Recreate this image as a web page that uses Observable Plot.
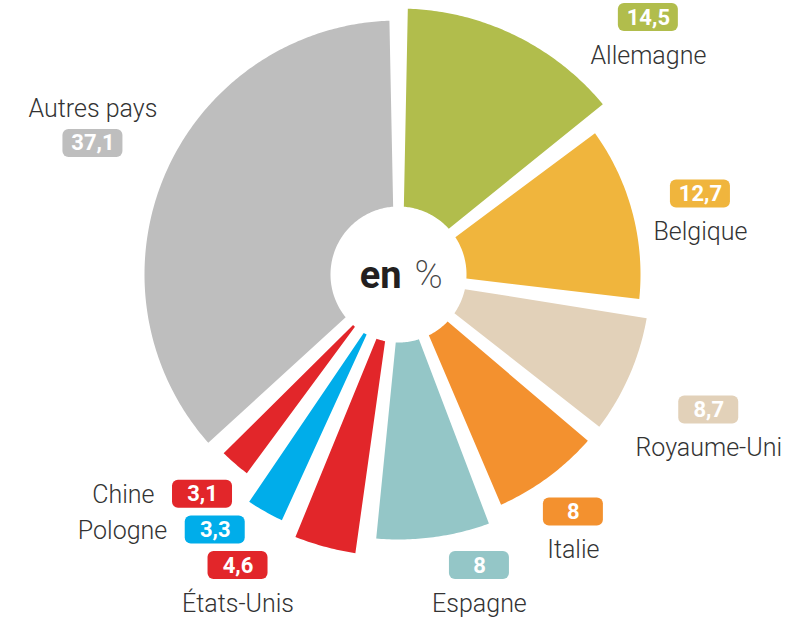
<!DOCTYPE html>
<html>
<head>
<meta charset="utf-8">
<script src="https://cdn.jsdelivr.net/npm/d3@7"></script>
<script src="https://cdn.jsdelivr.net/npm/@observablehq/plot@0.6"></script>
<style>
  html, body { margin: 0; padding: 0; background: #ffffff; }
  #chart svg { display: block; }
</style>
</head>
<body>
<div id="chart"></div>
<script>
// ---------- data ----------
const countries   = ["Allemagne", "Belgique", "Royaume-Uni", "Italie", "Espagne", "États-Unis", "Pologne", "Chine", "Autres pays"];
const shares      = [14.5, 12.7, 8.7, 8, 8, 4.6, 3.3, 3.1, 37.1];
const shareLabels = ["14,5", "12,7", "8,7", "8", "8", "4,6", "3,3", "3,1", "37,1"];
const unitLabel   = ["en", "%"];

// ---------- styles & layout (not data) ----------
const palette = ["#b1bd4c", "#f0b53d", "#e2d1b9", "#f3912f", "#94c6c7", "#e2262a", "#00adea", "#e2262a", "#bebebe"];
const sliceRadius = [266, 242, 252, 252, 265, 282, 272, 250, 254]; // decorative outer radius of each wedge
const W = 791, H = 621, CX = 398, CY = 274;
const innerRadius = 68;
const gapAt = r => 8 + 0.04 * r;          // white gap width between wedges
const badgeW = 60, badgeH = 28;
const nameSize = 25, badgeSize = 22;
const FONT = "Roboto, 'Open Sans', Lato, 'Noto Sans', sans-serif";

// ---------- wedges from the values ----------
const pie = d3.pie().sort(null).value(d => d)(shares);
const slicePts = [];
pie.forEach((p, i) => {
  const R = sliceRadius[i];
  const hO = gapAt(R) / 2, hI = gapAt(innerRadius) / 2;
  const o0 = p.startAngle + Math.asin(hO / R), o1 = p.endAngle - Math.asin(hO / R);
  let i0 = p.startAngle + Math.asin(hI / innerRadius), i1 = p.endAngle - Math.asin(hI / innerRadius);
  if (i1 < i0) { const m = (p.startAngle + p.endAngle) / 2; i0 = i1 = m; }
  const n = Math.max(8, Math.ceil((o1 - o0) / 0.01));
  for (let k = 0; k <= n; k++) {
    const a = o0 + (o1 - o0) * k / n;
    slicePts.push({country: countries[i], x: R * Math.sin(a), y: -R * Math.cos(a)});
  }
  const m = Math.max(2, Math.ceil((i1 - i0) / 0.02));
  for (let k = 0; k <= m; k++) {
    const a = i1 - (i1 - i0) * k / m;
    slicePts.push({country: countries[i], x: innerRadius * Math.sin(a), y: -innerRadius * Math.cos(a)});
  }
});

// ---------- label placement (derived from wedge angles) ----------
const ctx = document.createElement("canvas").getContext("2d");
ctx.font = `300 ${nameSize}px ${FONT}`;

function boxDist(ax, ay, b) {
  const x0 = ax + b.x0, x1 = ax + b.x1, y0 = ay + b.y0, y1 = ay + b.y1;
  const dx = x0 > 0 ? x0 : (x1 < 0 ? -x1 : 0);
  const dy = y0 > 0 ? y0 : (y1 < 0 ? -y1 : 0);
  return Math.hypot(dx, dy);
}
function placeAlong(theta, b, Rc) {
  const ux = Math.sin(theta), uy = -Math.cos(theta);
  let t = 0;
  while (boxDist(t * ux, t * uy, b) < Rc && t < 1000) t += 0.5;
  let ax = t * ux, ay = t * uy;
  const pad = 3;
  const xmin = -CX + pad - b.x0, xmax = W - CX - pad - b.x1;
  const ymin = -CY + pad - b.y0, ymax = H - CY - pad - b.y1;
  ay = Math.min(Math.max(ay, ymin), ymax);
  ax = Math.min(Math.max(ax, xmin), xmax);
  const sx = ux >= 0 ? 1 : -1;
  let guard = 0;
  while (boxDist(ax, ay, b) < Rc && guard++ < 2000) ax += sx * 0.5;
  return [ax, ay];
}
function overlaps(a, b, m = 6) {
  return !(a.ax + a.b.x1 + m < b.ax + b.b.x0 || b.ax + b.b.x1 + m < a.ax + a.b.x0 ||
           a.ay + a.b.y1 + m < b.ay + b.b.y0 || b.ay + b.b.y1 + m < a.ay + a.b.y0);
}

const labels = [];
pie.forEach((p, i) => {
  const theta = (p.startAngle + p.endAngle) / 2;
  const ux = Math.sin(theta), uy = -Math.cos(theta);
  const nameW = ctx.measureText(countries[i]).width;
  const colW = Math.max(badgeW, nameW);
  let kind, b;
  if (ux > 0 || Math.abs(ux) < 0.3) { kind = "below"; b = {x0: -colW / 2, x1: colW / 2, y0: -badgeH / 2, y1: 53}; }
  else if (uy < 0) { kind = "above"; b = {x0: -colW / 2, x1: colW / 2, y0: -45, y1: badgeH / 2}; }
  else { kind = "row"; b = {x0: -badgeW / 2 - 18 - nameW, x1: badgeW / 2, y0: -badgeH / 2, y1: 15}; }
  const Rc = sliceRadius[i] + 14;
  let th = theta, ax, ay, lab, tries = 0;
  do {
    [ax, ay] = placeAlong(th, b, Rc);
    lab = {country: countries[i], value: shareLabels[i], kind, b, ax, ay, nameW};
    th += 0.005;
  } while (labels.some(l => overlaps(l, lab)) && tries++ < 400);
  labels.push(lab);
});

// name position: centre of the name text
labels.forEach(l => {
  if (l.kind === "below") { l.nx = l.ax; l.ny = l.ay + 46; }
  else if (l.kind === "above") { l.nx = l.ax; l.ny = l.ay - 26; }
  else { l.nx = l.ax - badgeW / 2 - 18 - l.nameW / 2; l.ny = l.ay + 9; }
});

// ---------- chart ----------
const chart = Plot.plot({
  width: W, height: H,
  margin: 0,
  x: {domain: [-CX, W - CX], range: [0, W], axis: null},
  y: {domain: [-CY, H - CY], range: [0, H], axis: null},
  color: {domain: countries, range: palette},
  style: {fontFamily: FONT, background: "#ffffff"},
  marks: [
    Plot.line(slicePts, {x: "x", y: "y", z: "country", fill: "country", stroke: "none", curve: "linear-closed"}),
    Plot.rect(labels, {x1: d => d.ax - badgeW / 2, x2: d => d.ax + badgeW / 2,
                       y1: d => d.ay - badgeH / 2, y2: d => d.ay + badgeH / 2,
                       fill: "country", rx: 6}),
    Plot.text(labels, {x: "ax", y: "ay", text: "value", fill: "#ffffff", fontSize: badgeSize,
                       fontWeight: 700, letterSpacing: -0.5}),
    Plot.text(labels, {x: "nx", y: "ny", text: "country", textAnchor: "middle", lineAnchor: "bottom",
                       fill: "#333333", fontSize: nameSize, fontWeight: 300}),
    Plot.text([unitLabel[0]], {x: () => 0, y: () => 0, text: d => d, dx: 3, dy: 13,
                       textAnchor: "end", lineAnchor: "bottom", fontSize: 38, fontWeight: 700,
                       letterSpacing: -1.5, fill: "#231f20"}),
    Plot.text([unitLabel[1]], {x: () => 0, y: () => 0, text: d => d, dx: 16, dy: 13,
                       textAnchor: "start", lineAnchor: "bottom", fontSize: 38, fontWeight: 200,
                       fill: "#444444"})
  ]
});
document.getElementById("chart").appendChild(chart);
</script>
</body>
</html>
